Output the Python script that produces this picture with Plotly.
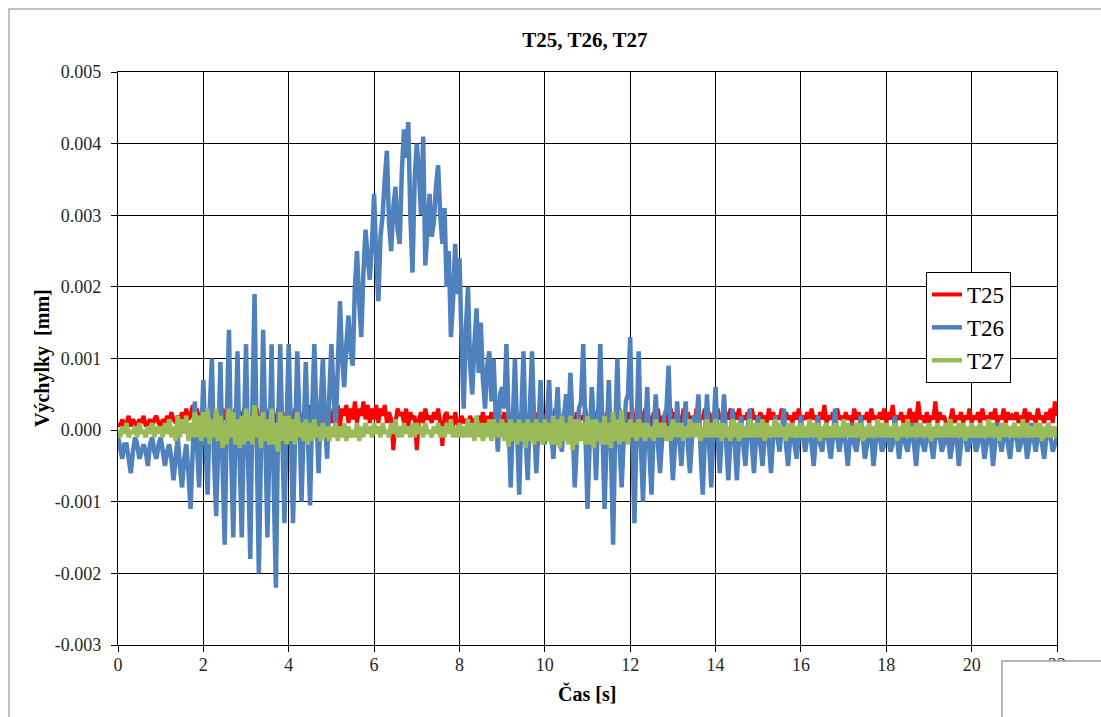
import numpy as np
import plotly.graph_objects as go

# Sample times [s], one reading every 0.05 s
time_s = np.round(np.arange(0, 22.0001, 0.05), 2)

# Displacements in units of 1e-4 mm, twenty readings per row (one second)
t25 = [
    1, 0.5, 1.5, 0.5, 1, 2, 0.5, 1.5, 1, 0.5, 1.5, 1, 2, 0.5, 1, 1.5, 0.5, 1.5, 2, 1,
    0.5, 1.5, 1, 2, 1, 2.5, 1.5, 1, 2, 1.5, 2.5, 1, 3, 1.5, 2, 3.5, 1.5, 3, 1, 2.5,
    0.5, 2.5, 1, 3, 1.5, 2, -1, 2.5, 1, 3, 1.5, 2, 0.5, 2.5, 1, 3, 1.5, 2.5, 1, 3,
    1, 2, 0.5, 2.5, 1, 3, 1.5, 2, 0.5, 2.5, 1, 3, 1.5, 2, 1, 3, 0.5, 2.5, 1, 2,
    0.5, 2.5, 1, 3, 1.5, 2, 1, 2.5, 0.5, 3.5, 1.5, 2.5, 1, 3, 0.5, 2.5, 1, 3, 1.5, 2.5,
    1, 3, 1.5, 3.5, 0.5, 3, 2, 3.5, 1, 3, 1.5, 4, 1, 3, 2, 4, 1.5, 3.5, 1, 3,
    1.5, 3.5, 1, 3, 2, 3.5, 1, 2.5, 1.5, -2.8, 1, 3, 2, 2.5, 1, 3, 0.5, 2.5, 1.5, 2,
    -2.8, 1.5, 2.5, 1, 3, 1.5, 2, 1, 2.5, 1.5, 3, 1, -2.2, 2, 2.5, 1, 2, 0.5, 2.5, 1,
    0.5, 2, 1, 1.5, 0.5, 2, 1, 1.5, 0.5, 2, 1, 2.5, 0.5, 2, 1, 2.5, 0.5, 3, 1, 2,
    1, 2.5, 0.5, 2, 1, 2.5, 0.5, 2, 1, 2.5, 0, 2, 1, 2.5, 0.5, 2, 1, 2.5, 0.5, 2,
    1, 2.5, 0.5, 2, 1, 3, 0.5, 2, 1, 2.5, 0.5, 3, 1, 2, 0.5, 2.5, 1, 2, 1.5, 3,
    0.5, 2, 1, 2.5, 0.5, 3, 1, 2, -1, 2.5, 1, 2, 0.5, 2.5, 1, 3, 0.5, 2, 1, 2.5,
    1, 3, 0.5, 2, 1, 2.5, 0.5, 3, 1, 2, 0.5, 2.5, 1, 3, 0.5, 2, 1, 2.5, 0.5, 3,
    1, 2.5, 0.5, 2, 1, 3, 0.5, 2.5, 1, 2, 0.5, 3, 1, 2, 1.5, 3, 0.5, 2.5, 1, 2,
    1, 3, 1.5, 2, 1, 2.5, 1.5, 3, 1, 2.5, 1.5, 3, 1, 2, 1.5, 2.5, 1, 3, 1.5, 2,
    1, 2.5, 1.5, 2, 1, 3, 1.5, 2.5, 1, 2, 1.5, 3, 1, 2.5, 1.5, 2, 1, 2.5, 1.5, 3,
    1, 2, 1.5, 2.5, 1, 3, 1.5, 2, 1, 2.5, 1.5, 3.5, 1, 2, 1.5, 2.5, 1, 3, 1.5, 2,
    1, 2.5, 1.5, 2, 1, 3, 1.5, 2.5, 1, 2, 1.5, 2.5, 1, 3, 1.5, 2, 1, 2.5, 1.5, 3,
    1, 2.5, 1.5, 3.5, 1, 2, 1.5, 2.5, 1, 2, 1.5, 3, 1, 2.5, 1, 4, 1.5, 2, 1, 2.5,
    1, 2, 1.5, 4, 1, 2.5, 1.5, 2, 1, -2, 1.5, 3, 1, 2, 1.5, 2.5, 1, 2, 1.5, 3,
    1, 2, 1.5, 2.5, 1, 3, 1.5, 2, 1, 2.5, 1.5, 3, 1, 2, 1.5, 3, 1, 2.5, 1.5, 2,
    1.5, 2.5, 1, 2, 1.5, 3, 1, 2.5, 1.5, 2, 1, 3, 1.5, 2, 1, 2.5, 1.5, 3, 1, 4,
    2,
]

t26 = [
    -1, -3, -4, -2, -2, -4, -6, -3, -1, -2, -4, -3, -2, -3, -5, -2, -1, -3, -4, -2,
    -1, -3, -5, -3, -2, -4, -7, -4, -1, -5, -8, -4, -2, -6, -11, -3, 4, -2, -8, -1,
    7, -2, -9, 3, 10, -4, -12, -2, 9.5, -5, -16, 2, 14, -3, -15, -1, 11, -4, -15, 0,
    12, -5, -18, 4, 19, -2, -20, -3, 14, 0, -15, -2, 12, -8, -22, 0, 12, -1, -13, 1,
    12, 0, -13, -1, 11, 2, -10, 0, 9.5, -1, -10.5, 3, 12, 2, -6, 4, 10, 1, -4, 5,
    12, 5, 0, 9, 18, 10, 6, 12, 16, 11, 9, 20, 25, 18, 13, 22, 28, 24, 21, 26,
    33, 24, 18, 27, 30, 35, 39, 29, 25, 31, 34, 28, 26, 36, 42, 38, 43, 30, 22, 35,
    40, 36, 30, 41, 23, 28, 33, 27, 29, 34, 37, 30, 26, 31, 20, 25, 13, 18, 26, 19,
    24, 12, 3, 14, 20, 9, 5, 12, 17, 8, 15, 7, 3, 9, 11, 4, 10, 2, -3, 5,
    6, 3, 12, 2, -8, 1, 10, 0, -9, 2, 11, -1, -7, 3, 11, 1, -6, 0, 7, -1,
    -2, 2, 7, 0, -4, 1, 6, -1, -3, 2, 5, 0, 8, 1, -8, -2, 3, 4, 12, 0,
    -11, -2, 6, 1, -7, 2, 12, 0, -11, -1, 7, -3, -16, 0, 10, -2, -8, -1, 4, 5,
    13, -1, -13, 0, 11, -2, -10, -1, 6, -3, -9, 0, 5, -2, -6, -1, 2, 3, 9, -1,
    -7, -2, 4, -1, -5, 0, 4, -2, -6, -1, 2, 1, 5, -3, -9, -1, 5, -2, -8, 0,
    6, -1, -6, 0, 5, -2, -7, -1, 3, -2, -7, -1, 2, -2, -5, 0, 3, -2, -6, -1,
    2, -2, -5, -1, 1, -2, -6, -1, 2, -1, -3, 0, 3, -2, -5, -1, 1, -2, -4, -1,
    2, -1, -3, -1, 1, -2, -5, -1, 2, -2, -3, 0, 1, -2, -4, -1, 3, -1, -3, -1,
    0, -2, -5, -1, 1, -2, -3, -1, 2, -1, -4, -2, 0, -1, -5, -2, 1, -1, -3, -2,
    1, -1, -3, -2, 2, -1, -4, -1, 0, -2, -3, -1, 1, -2, -5, -1, 0, -2, -3, -1,
    1, -2, -4, -1, 0, -1, -3, -2, 1, -1, -4, -2, 0, -1, -5, -2, 1, -1, -3, -2,
    0, -1, -3, -2, 1, -1, -4, -2, 0, -1, -5, -2, 1, -1, -3, -1, 0, -2, -4, -1,
    1, -1, -3, -2, 0, -1, -4, -2, 1, -1, -3, -1, 0, -2, -4, -1, 1, -1, -3, -2,
    -1,
]

t27 = [
    0, -1, 0.5, -0.5, 1, -1, 0, -0.5, 0.5, -1, 1, -0.5, 0, -1, 0.5, -0.5, 1, -1, 0.5, -0.5,
    0.5, -1, 1, -0.5, 1.5, -1, 0.5, -1.5, 2, -1, 1.5, -0.5, 2, -1.5, 1, -1, 2.5, -1, 2, -1.5,
    2.5, -1, 3, -2, 1.5, -1, 3, -1.5, 2, -2.5, 1, -2, 3, -1, 2.5, -2, 1.5, -2.5, 2, -2,
    3, -1.5, 2, -2, 3.5, -1, 2, -2.5, 2.5, -1.5, 1.5, -2, 3, -2, 1, -3, 2.5, -1.5, 2, -2,
    2, -1.5, 1.5, -2, 2.5, -1, 1, -1.5, 1.5, -2, 1, -1.5, 1.5, -1, 0.5, -1.5, 1, -1, 0.5, -1.5,
    0.5, -1, 1, -1.5, 0.5, -1, 1, -1.5, 0.5, -1, 0, -1, 1, -1.5, 0.5, -1, 1, -0.5, 0.5, -1,
    1, -0.5, 0.5, -1, 1, -0.5, 0, -1, 1, -0.5, 1.5, -1, 0.5, -1, 1, -0.5, 0.5, -1, 1, -1,
    1, -0.5, 0.5, -1, 1, -0.5, 0, -1, 0.5, -0.5, 1, -1, 0.5, -1, 1, -0.5, 1.5, -1, 0.5, -1,
    1, -1, 0.5, -1, 1.5, -1, 1, -1.5, 2, -1, 1, -1.5, 1, -1, 1.5, -1.5, 1.5, -1, 1, -1,
    1.5, -1.5, 1, -2.3, 1.5, -1.5, 1, -2, 1.5, -1.5, 1, -2.5, 1.5, -1.5, 1, -2, 1.5, -1.5, 1, -2,
    1.5, -1.5, 1, -2, 2, -2, 1.5, -2.5, 2, -1.5, 1, -2, 2, -2.8, 1.5, -2, 1.5, -1.5, 1, -2,
    2, -2, 1.5, -2.5, 1.5, -1.5, 1, -2, 2, -2, 1, -2.5, 2.5, -1.5, 1.5, -2, 2.8, -1.5, 1, -2,
    1.5, -1, 1, -1.5, 1.5, -1, 1, -1.5, 1, -1, 0.5, -1.5, 1.5, -1, 1, -1, 1, -1.5, 0.5, -1.5,
    1.5, -1, 1, -1, 1, -1.5, 0.5, -1, 1.5, -1, 1, -1, 1, -1.5, 0.5, -1, 1.5, -1, 1, -1,
    1.5, -1, 1, -1.5, 1, -1, 0.5, -1.5, 1.5, -1, 1, -1.5, 1, -1, 0.5, -1, 1.5, -1, 1, -1,
    1, -1, 1.5, -1.5, 1, -1, 0.5, -1, 1.5, -1, 1, -1, 0.5, -1.5, 1, -1, 1, -1, 0.5, -1,
    1, -1, 0.5, -1, 1.5, -1, 1, -1, 1, -1.5, 0.5, -1, 1, -1, 0.5, -1, 1, -1, 0.5, -1,
    1.5, -1, 1, -1, 0.5, -1, 1, -1, 1, -1.5, 0.5, -1, 1, -1, 0.5, -1, 1.5, -1, 1, -1,
    1, -1, 0.5, -1, 1, -1.5, 0.5, -1, 1, -1, 1.5, -1, 0.5, -1, 1, -1, 1, -1, 0.5, -1,
    1, -1.5, 0.5, -1, 1, -1, 0.5, -1, 1, -1, 1.5, -1, 0.5, -1, 1, -1, 1, -1.5, 0.5, -1,
    1, -1, 0.5, -1, 1, -1, 0.5, -1, 1.5, -1, 1, -1, 0.5, -1.5, 1, -1, 1, -1, 0.5, -1,
    1, -1, 0.5, -1, 1.5, -1, 1, -1, 0.5, -1, 1, -1, 1, -1.5, 0.5, -1, 1, -1, 0.5, -1,
    0.5,
]

UNIT = 1e-4  # mm per stored unit

series_names = ["T25", "T26", "T27"]
series_values = [t25, t26, t27]
series_colors = ["#FF0000", "#4F81BD", "#9BBB59"]
series_widths = [4, 4.5, 4.5]

x_ticks = list(range(0, 23, 2))
y_ticks = [-0.003, -0.002, -0.001, 0.0, 0.001, 0.002, 0.003, 0.004, 0.005]
y_tick_labels = ["-0.003", "-0.002", "-0.001", "0.000", "0.001",
                 "0.002", "0.003", "0.004", "0.005"]

SERIF = "Liberation Serif, Times New Roman, serif"

fig = go.Figure()
for name, vals, col, lw in zip(series_names, series_values, series_colors,
                               series_widths):
    fig.add_trace(go.Scatter(
        x=time_s, y=np.array(vals) * UNIT, mode="lines", name=name,
        legendgroup=name,
        line=dict(color=col, width=lw),
    ))

W, H = 1101, 717
L, R, T, B = 118, 44, 72, 72
pw, ph = W - L - R, H - T - B

def px(xp):
    return (xp - L) / pw

def py(yp):
    return (H - B - yp) / ph

axis_common = dict(
    showgrid=True, gridcolor="#000000", gridwidth=1,
    showline=True, linecolor="#000000", linewidth=1.3, mirror=True,
    ticks="outside", ticklen=6, tickcolor="#000000", tickwidth=1.3,
    zeroline=False,
    tickfont=dict(family=SERIF, size=18, color="#262626"),
)

fig.update_layout(
    width=W, height=H,
    margin=dict(l=L, r=R, t=T, b=B),
    paper_bgcolor="white", plot_bgcolor="white",
    title=dict(text="<b>T25, T26, T27</b>", x=px(585), xref="paper",
               xanchor="center", y=1 - 40 / H, yanchor="middle",
               font=dict(family=SERIF, size=21, color="#000000")),
    xaxis=dict(range=[0, 22], tickvals=x_ticks, ticklabelstandoff=-3,
               **axis_common),
    yaxis=dict(range=[-0.003, 0.005], tickvals=y_ticks, ticktext=y_tick_labels,
               ticklabelstandoff=6, **axis_common),
    legend=dict(x=px(926), y=py(272), xanchor="left", yanchor="top",
                bgcolor="white", bordercolor="#000000", borderwidth=1,
                font=dict(family=SERIF, size=23, color="#000000"),
                tracegroupgap=5, traceorder="normal"),
    showlegend=True,
)

# Axis titles
fig.add_annotation(text="<b>Výchylky\u00a0 [mm]</b>", textangle=-90,
                   x=px(42), y=py(358), xref="paper", yref="paper",
                   xanchor="center", yanchor="middle", showarrow=False,
                   font=dict(family=SERIF, size=20, color="#000000"))
fig.add_annotation(text="<b>Čas [s]</b>", x=px(587), y=py(693),
                   xref="paper", yref="paper", xanchor="center",
                   yanchor="middle", showarrow=False,
                   font=dict(family=SERIF, size=20, color="#000000"))

# Outer chart frame
fig.add_shape(type="rect", xref="paper", yref="paper",
              x0=px(9), x1=px(1120), y0=py(740), y1=py(9),
              line=dict(color="#b0b0b0", width=1.5), fillcolor="rgba(0,0,0,0)",
              layer="below")

# Neighbouring chart frame in the lower right corner
fig.add_shape(type="rect", xref="paper", yref="paper",
              x0=px(1002), x1=px(1130), y0=py(760), y1=py(661),
              line=dict(color="#a0a0a0", width=1.5), fillcolor="white",
              layer="above")
fig.add_annotation(text="0.005", x=px(1073), y=py(712), xref="paper",
                   yref="paper", xanchor="center", yanchor="top",
                   showarrow=False,
                   font=dict(family=SERIF, size=17, color="#262626"))

fig.write_html("out.html")
